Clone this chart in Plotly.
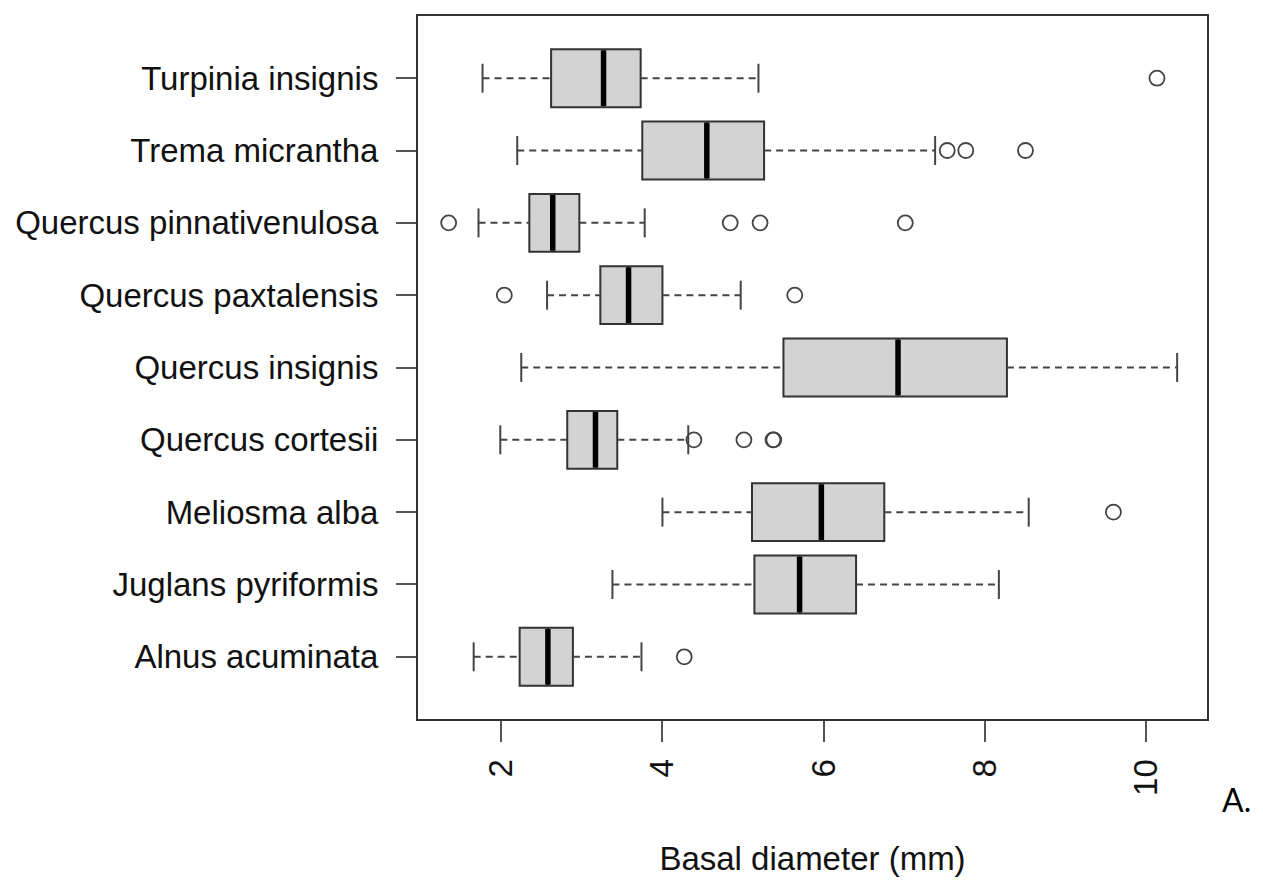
import plotly.graph_objects as go

# ---- data ----
species = ["Alnus acuminata", "Juglans pyriformis", "Meliosma alba", "Quercus cortesii",
           "Quercus insignis", "Quercus paxtalensis", "Quercus pinnativenulosa",
           "Trema micrantha", "Turpinia insignis"]
lower_whisker = [1.66, 3.38, 4.00, 1.99, 2.25, 2.57, 1.72, 2.20, 1.77]
q1 = [2.23, 5.14, 5.11, 2.82, 5.50, 3.23, 2.35, 3.75, 2.62]
median = [2.58, 5.70, 5.97, 3.17, 6.92, 3.58, 2.64, 4.55, 3.27]
q3 = [2.89, 6.40, 6.75, 3.44, 8.27, 4.00, 2.97, 5.26, 3.73]
upper_whisker = [3.74, 8.17, 8.54, 4.32, 10.38, 4.97, 3.78, 7.38, 5.19]
outlier_species = ["Alnus acuminata", "Meliosma alba",
                   "Quercus cortesii", "Quercus cortesii", "Quercus cortesii", "Quercus cortesii",
                   "Quercus paxtalensis", "Quercus paxtalensis",
                   "Quercus pinnativenulosa", "Quercus pinnativenulosa",
                   "Quercus pinnativenulosa", "Quercus pinnativenulosa",
                   "Trema micrantha", "Trema micrantha", "Trema micrantha",
                   "Turpinia insignis"]
outlier_values = [4.27, 9.59,
                  4.39, 5.01, 5.37, 5.38,
                  2.04, 5.64,
                  1.35, 4.84, 5.21, 7.01,
                  7.53, 7.76, 8.50,
                  10.13]
x_ticks = [2, 4, 6, 8, 10]

# ---- style ----
BOX_W = 0.8
CAP_W = 0.4
FONT = "Liberation Sans, Arial, sans-serif"
LINE_C = "#333333"
TXT_C = "#111111"

pos = list(range(1, len(species) + 1))
pos_of = {s: p for s, p in zip(species, pos)}

fig = go.Figure()

# boxes (precomputed statistics, whiskers drawn separately as dashed lines)
fig.add_trace(go.Box(
    y=pos, q1=q1, median=median, q3=q3, lowerfence=q1, upperfence=q3,
    orientation="h", width=BOX_W, whiskerwidth=0,
    fillcolor="#D3D3D3", line=dict(color=LINE_C, width=2),
    boxpoints=False, showlegend=False, hoverinfo="skip",
))

# dashed whiskers
wx, wy = [], []
for p, lw, a, b, uw in zip(pos, lower_whisker, q1, q3, upper_whisker):
    wx += [lw, a, None, b, uw, None]
    wy += [p, p, None, p, p, None]
fig.add_trace(go.Scatter(x=wx, y=wy, mode="lines",
                         line=dict(color="#444444", width=2, dash="7px,5px"),
                         showlegend=False, hoverinfo="skip"))

# whisker caps
cx, cy = [], []
for p, lw, uw in zip(pos, lower_whisker, upper_whisker):
    cx += [lw, lw, None, uw, uw, None]
    cy += [p - CAP_W / 2, p + CAP_W / 2, None, p - CAP_W / 2, p + CAP_W / 2, None]
fig.add_trace(go.Scatter(x=cx, y=cy, mode="lines",
                         line=dict(color="#444444", width=2),
                         showlegend=False, hoverinfo="skip"))

# thick medians
mx, my = [], []
for p, m in zip(pos, median):
    mx += [m, m, None]
    my += [p - BOX_W / 2 + 0.015, p + BOX_W / 2 - 0.015, None]
fig.add_trace(go.Scatter(x=mx, y=my, mode="lines",
                         line=dict(color="black", width=5.5),
                         showlegend=False, hoverinfo="skip"))

# outliers
fig.add_trace(go.Scatter(
    x=outlier_values, y=[pos_of[s] for s in outlier_species], mode="markers",
    marker=dict(symbol="circle-open", size=15, color="#444444", line=dict(width=1.8)),
    showlegend=False, hoverinfo="skip"))

# page body has an 8px margin: figure is shrunk/shifted to compensate
fig.update_layout(
    width=1255, height=872,
    margin=dict(l=410, r=56, t=6, b=161),
    paper_bgcolor="white", plot_bgcolor="white",
    boxmode="overlay",
    font=dict(family=FONT, size=33, color=TXT_C),
    showlegend=False,
)
fig.update_xaxes(
    range=[0.97, 10.75], tickvals=x_ticks, ticktext=[str(v) for v in x_ticks],
    tickangle=-90, ticks="outside", ticklen=21, tickwidth=2, tickcolor="#555555",
    showline=True, mirror=True, linecolor=LINE_C, linewidth=2,
    showgrid=False, zeroline=False, ticklabelstandoff=4,
    title=dict(text="Basal diameter (mm)", standoff=52,
               font=dict(family=FONT, size=33, color=TXT_C)),
    tickfont=dict(family=FONT, size=33, color=TXT_C),
)
fig.update_yaxes(
    range=[0.14, 9.86], tickvals=pos, ticktext=species,
    ticks="outside", ticklen=20, tickwidth=2, tickcolor="#555555",
    showline=True, mirror=True, linecolor=LINE_C, linewidth=2,
    showgrid=False, zeroline=False, ticklabelstandoff=11,
    tickfont=dict(family=FONT, size=33, color=TXT_C),
)
fig.add_annotation(text="A.", xref="paper", yref="paper", x=1.037, y=-0.115,
                   showarrow=False, xanchor="center", yanchor="middle",
                   font=dict(family="Lato, sans-serif", size=32, color="black"))

fig.write_html("out.html")
